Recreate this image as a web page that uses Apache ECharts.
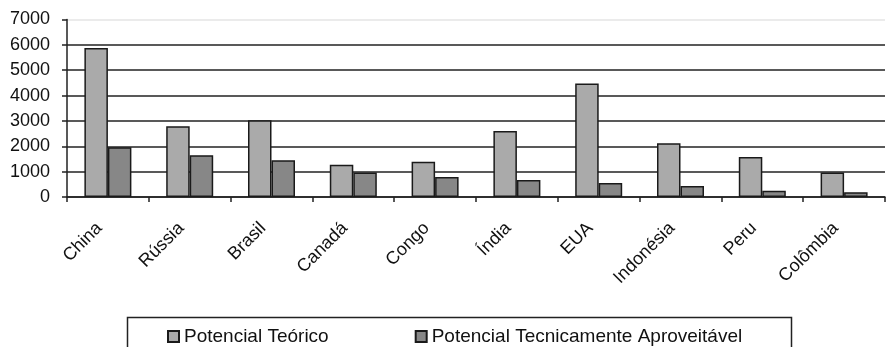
<!DOCTYPE html>
<html>
<head>
<meta charset="utf-8">
<script src="https://cdn.jsdelivr.net/npm/echarts@6/dist/echarts.min.js"></script>
<style>html,body{margin:0;padding:0;background:#fff}#c{width:886px;height:347px}</style>
</head>
<body>
<div id="c"></div>
<script>
var categories = ['China','Rússia','Brasil','Canadá','Congo','Índia','EUA','Indonésia','Peru','Colômbia'];
var teorico = [5880, 2790, 3030, 1270, 1390, 2600, 4480, 2120, 1580, 970];
var tecnico = [1960, 1650, 1450, 970, 790, 670, 550, 430, 250, 190];
var yTicks = [0, 1000, 2000, 3000, 4000, 5000, 6000, 7000];
var seriesNames = ['Potencial Teórico', 'Potencial Tecnicamente Aproveitável'];

var font = 'Liberation Sans, Arial, sans-serif';
var chart = echarts.init(document.getElementById('c'), null, {renderer:'canvas'});
chart.setOption({
  animation: false,
  backgroundColor: '#fff',
  grid: {left: 67, right: 1, top: 19.5, bottom: 150, containLabel: false},
  xAxis: {
    type: 'category',
    data: categories,
    axisLine: {lineStyle: {color: '#222', width: 1.5}},
    axisTick: {show: true, length: 5, lineStyle: {color: '#222', width: 1.5}},
    axisLabel: {rotate: 45, margin: 20, padding: [0, 12, 0, 0], color: '#111', fontFamily: font, fontSize: 18, interval: 0}
  },
  yAxis: {
    type: 'value',
    min: yTicks[0], max: yTicks[yTicks.length-1], interval: 1000,
    axisLine: {show: true, lineStyle: {color: '#222', width: 1.5}},
    axisTick: {show: true, length: 5, lineStyle: {color: '#222', width: 1.5}},
    axisLabel: {color: '#111', fontFamily: font, fontSize: 18, margin: 17, formatter: function(v){ return String(v); }},
    splitLine: {show: true, lineStyle: {color: ['#222','#222','#222','#222','#222','#222','#222','#e4e4e4'], width: 1.5}}
  },
  legend: {
    left: 162, top: 322,
    itemWidth: 11, itemHeight: 11, itemGap: 86,
    icon: 'rect',
    textStyle: {fontFamily: font, fontSize: 19, color: '#111'},
    data: seriesNames
  },
  graphic: [{
    type: 'rect', shape: {x: 127.5, y: 317.5, width: 664, height: 60},
    style: {fill: 'none', stroke: '#222', lineWidth: 1.5}, z: -1
  }],
  series: [
    {name: seriesNames[0], type: 'bar', data: teorico, barWidth: 23.5, barGap: '0%',
     itemStyle: {color: '#aaaaaa', borderColor: '#1a1a1a', borderWidth: 1.5}},
    {name: seriesNames[1], type: 'bar', data: tecnico, barWidth: 23.5, barGap: '0%',
     itemStyle: {color: '#878787', borderColor: '#1a1a1a', borderWidth: 1.5}}
  ]
});
</script>
</body>
</html>
